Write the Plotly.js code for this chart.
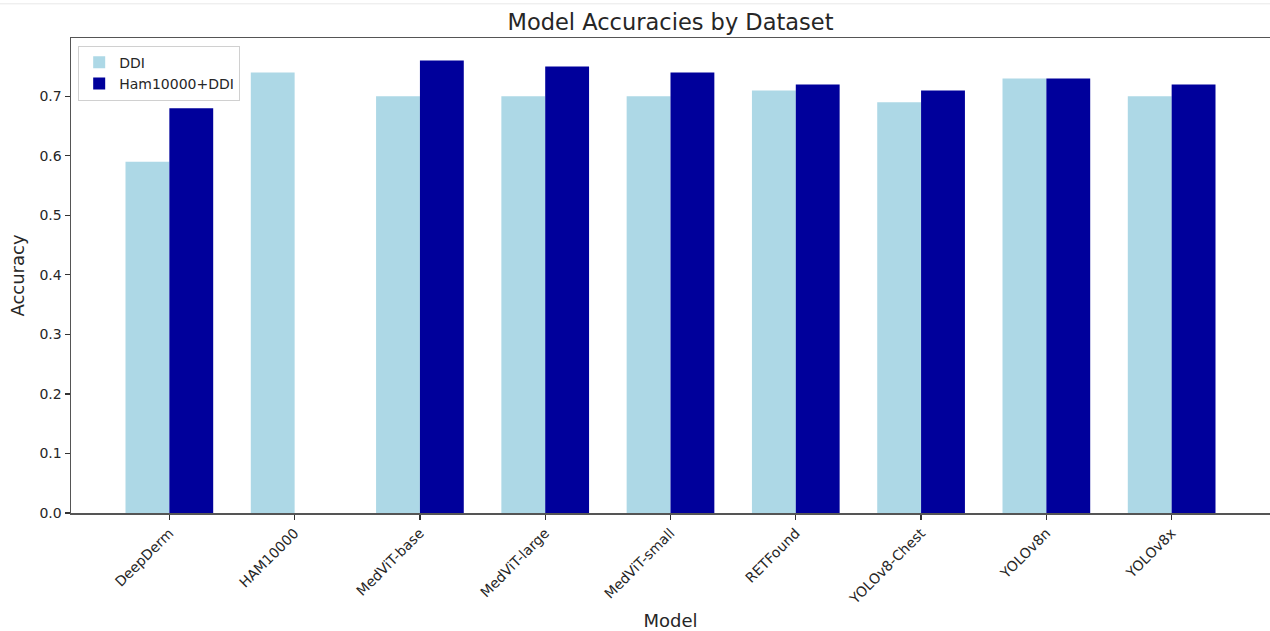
<!DOCTYPE html>
<html>
<head>
<meta charset="utf-8">
<script src="https://cdn.plot.ly/plotly-3.0.1.min.js"></script>
<style>html,body{margin:0;padding:0;background:#fff;}#chart{width:1270px;height:631px;}</style>
</head>
<body>
<div id="chart"></div>
<script>
const models = ["DeepDerm","HAM10000","MedViT-base","MedViT-large","MedViT-small","RETFound","YOLOv8-Chest","YOLOv8n","YOLOv8x"];
const ddi = [0.59, 0.74, 0.70, 0.70, 0.70, 0.71, 0.69, 0.73, 0.70];
const hamDdi = [0.68, null, 0.76, 0.75, 0.74, 0.72, 0.71, 0.73, 0.72];
const seriesNames = ["DDI", "Ham10000+DDI"];

const idx = models.map((_, i) => i);
const font = "DejaVu Sans, sans-serif";
const txt = "#262626";

const traces = [
  {type: "bar", name: seriesNames[0], x: idx, y: ddi, offset: -0.35, width: 0.35,
   marker: {color: "#ADD8E6", line: {width: 0}}},
  {type: "bar", name: seriesNames[1], x: idx, y: hamDdi, offset: 0, width: 0.35,
   marker: {color: "#00009B", line: {width: 0}}}
];

const layout = {
  width: 1270, height: 631,
  margin: {l: 71, r: 0, t: 37.5, b: 117.7, pad: 0},
  paper_bgcolor: "#fff", plot_bgcolor: "#fff",
  font: {family: font, color: txt, size: 14},
  title: {text: "Model Accuracies by Dataset", font: {family: font, size: 22.5, color: txt},
          x: 0.5, xanchor: "center", xref: "paper", y: 1, yref: "paper", yanchor: "bottom", pad: {b: 8}},
  showlegend: true,
  legend: {x: 0.006, y: 0.984, xanchor: "left", yanchor: "top", bgcolor: "rgba(255,255,255,0.8)",
           bordercolor: "#d0d0d0", borderwidth: 1, font: {family: font, size: 14, color: txt},
           itemwidth: 30, tracegroupgap: 0},
  xaxis: {
    range: [-0.785, 8.785], tickmode: "array", tickvals: idx, ticktext: models,
    tickangle: -45, ticks: "outside", ticklen: 5, tickwidth: 1.2, tickcolor: "#333",
    showline: true, linecolor: "#555", linewidth: 1.5, mirror: true,
    showgrid: false, zeroline: false, tickfont: {family: font, size: 14, color: txt},
    title: {text: "Model", font: {family: font, size: 18, color: txt}, standoff: 10}
  },
  yaxis: {
    range: [0, 0.798], dtick: 0.1, tick0: 0, tickformat: ".1f",
    ticks: "outside", ticklen: 5, tickwidth: 1.2, tickcolor: "#333",
    showline: true, linecolor: "#555", linewidth: 1.5,
    showgrid: false, zeroline: false, tickfont: {family: font, size: 14, color: txt},
    title: {text: "Accuracy", font: {family: font, size: 18, color: txt}, standoff: 10}
  },
  shapes: [{type: "line", xref: "paper", yref: "paper", x0: -0.06, x1: 1, y0: 1.072, y1: 1.072,
            line: {color: "#e8e8e8", width: 1}}]
};

Plotly.newPlot("chart", traces, layout, {displayModeBar: false, staticPlot: true});
</script>
</body>
</html>
